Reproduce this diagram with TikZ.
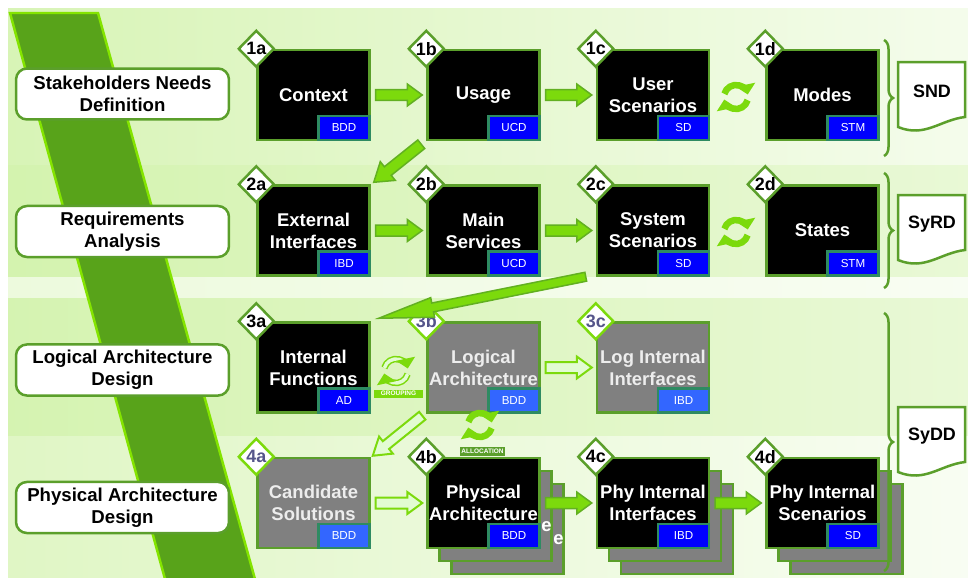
\documentclass[tikz,border=0pt]{standalone}
\usepackage{fontspec}
\setmainfont{Liberation Sans}
\usetikzlibrary{arrows.meta,calc,positioning,shapes.geometric,decorations.pathreplacing}

\definecolor{edgegreen}{HTML}{5B9F2B}
\definecolor{lime}{HTML}{7CDA0C}
\definecolor{limeedge}{HTML}{62B021}
\definecolor{palefill}{HTML}{E2FCD2}
\definecolor{stripefill}{HTML}{58A31A}
\definecolor{stripeedge}{HTML}{84E400}
\definecolor{tagblue}{HTML}{0000FF}
\definecolor{taglight}{HTML}{3366FF}
\definecolor{tagedge}{HTML}{2E8B62}
\definecolor{slate}{HTML}{55558A}
\definecolor{boxgrey}{HTML}{808080}

% block arrow: style, tail, tip, half shaft, half head, head length
\newcommand{\fatarrow}[6]{%
  \coordinate (fa-t) at #2;
  \coordinate (fa-h) at #3;
  \coordinate (fa-c) at ($(fa-h)!#6!(fa-t)$);
  \draw[#1] ($(fa-t)!#4!90:(fa-h)$) -- ($(fa-c)!#4!90:(fa-h)$) -- ($(fa-c)!#5!90:(fa-h)$)
    -- (fa-h) -- ($(fa-c)!#5!-90:(fa-h)$) -- ($(fa-c)!#4!-90:(fa-h)$)
    -- ($(fa-t)!#4!-90:(fa-h)$) -- cycle;
}

\tikzset{
  stagebox/.style={draw=edgegreen, line width=0.05cm, fill=white, rounded corners=0.22cm,
    minimum width=4.26cm, minimum height=1.02cm, align=center,
    font=\bfseries\fontsize{10.6}{12.5}\selectfont},
  viewbox/.style={draw=edgegreen, line width=0.05cm, fill=black, text=white,
    minimum width=2.24cm, minimum height=1.8cm, align=center, inner sep=0pt,
    font=\bfseries\fontsize{10.5}{12.5}\selectfont},
  greybox/.style={viewbox, fill=boxgrey, text=white!93!black},
  backbox/.style={viewbox, fill=boxgrey},
  tagbox/.style={draw=tagedge, line width=0.05cm, fill=tagblue, text=white, anchor=south east,
    minimum width=1.02cm, minimum height=0.48cm, inner sep=0pt, font=\fontsize{6.6}{7}\selectfont},
  lighttag/.style={tagbox, fill=taglight},
  stepno/.style={diamond, draw=edgegreen, fill=white, line width=0.05cm, inner sep=0pt,
    minimum width=0.72cm, minimum height=0.74cm, font=\bfseries\fontsize{10.2}{11}\selectfont},
  stepgrey/.style={stepno, draw=lime, text=slate},
  solidarrow/.style={fill=lime, draw=limeedge, line width=0.03cm},
  palearrow/.style={fill=palefill, draw=lime, line width=0.04cm},
  cyc/.style={line width=0.13cm, lime, -{Triangle[length=0.2cm, width=0.38cm]}},
  cycpale/.style={cyc, draw=lime, double=palefill, double distance=0.07cm, line width=0.03cm},
  minitag/.style={inner sep=0pt, text=white, font=\bfseries\fontsize{3.7}{4}\selectfont},
  doclabel/.style={font=\bfseries\fontsize{10.2}{11}\selectfont},
  docshape/.style={draw=edgegreen, fill=white, line width=0.05cm},
  bracket/.style={draw=edgegreen, line width=0.05cm, decorate, decoration={brace, amplitude=0.18cm}}
}

\begin{document}
\begin{tikzpicture}[x=0.02cm, y=-0.02cm]
  \useasboundingbox (0,0) rectangle (968,578);
  % bands
  \shade[left color=lime!30!white, right color=lime!8!white] (8,8) rectangle (968,165);
  \shade[left color=lime!33!white, right color=lime!17!white] (8,165) rectangle (968,277);
  \shade[left color=lime!14!white, right color=lime!5!white] (8,277) rectangle (968,298);
  \shade[left color=lime!32!white, right color=lime!17!white] (8,298) rectangle (968,436);
  \shade[left color=lime!24!white, right color=lime!5!white] (8,436) rectangle (968,578);
  % stripe
  \begin{scope}
    \clip (0,0) rectangle (968,578);
    \draw[stripeedge, fill=stripefill, line width=0.05cm] (10,13) -- (98,13) -- (258,590) -- (168,590) -- cycle;
  \end{scope}

  % stages
  \node[stagebox] (snd-st) at (122.5,94) {Stakeholders Needs\\Definition};
  \node[stagebox] (req-st) at (122.5,231.5) {Requirements\\Analysis};
  \node[stagebox] (lad-st) at (122.5,370) {Logical Architecture\\Design};
  \node[stagebox] (pad-st) at (122.5,507.5) {Physical Architecture\\Design};

  % stacked copies
  \foreach \cx/\nm in {483.5/phyarch,653/phyif,822.5/physc} {
    \node[backbox] (\nm-2) at (\cx+24,529) {};
    \node[backbox] (\nm-1) at (\cx+12,516) {};
  }
  \node[text=white, font=\bfseries\fontsize{10.5}{12.5}\selectfont, inner sep=0pt] (e1) at (546.5,527) {e};
  \node[text=white, font=\bfseries\fontsize{10.5}{12.5}\selectfont, inner sep=0pt] (e2) at (558.5,540) {e};

  % diagrams
  \node[viewbox] (ctx) at (313.5,95) {Context};
  \node[viewbox] (usage) at (483.5,95) {Usage};
  \node[viewbox] (usrsc) at (653,95) {User\\Scenarios};
  \node[viewbox] (modes) at (822.5,95) {Modes};
  \node[viewbox] (ext) at (313.5,230.5) {External\\Interfaces};
  \node[viewbox] (mainsv) at (483.5,230.5) {Main\\Services};
  \node[viewbox] (syssc) at (653,230.5) {System\\Scenarios};
  \node[viewbox] (states) at (822.5,230.5) {States};
  \node[viewbox] (intfn) at (313.5,367.5) {Internal\\Functions};
  \node[greybox] (logarch) at (483.5,367.5) {Logical\\Architecture};
  \node[greybox] (logif) at (653,367.5) {Log Internal\\Interfaces};
  \node[greybox] (cand) at (313.5,503) {Candidate\\Solutions};
  \node[viewbox] (phyarch) at (483.5,503) {Physical\\Architecture};
  \node[viewbox] (phyif) at (653,503) {Phy Internal\\Interfaces};
  \node[viewbox] (physc) at (822.5,503) {Phy Internal\\Scenarios};

  \foreach \b/\t in {ctx/BDD,usage/UCD,usrsc/SD,modes/STM,ext/IBD,mainsv/UCD,syssc/SD,states/STM,
      intfn/AD,phyarch/BDD,phyif/IBD,physc/SD}
    {\node[tagbox] (\b-tag) at (\b.south east) {\t};}
  \foreach \b/\t in {logarch/BDD,logif/IBD,cand/BDD}
    {\node[lighttag] (\b-tag) at (\b.south east) {\t};}

  \foreach \b/\t in {ctx/1a,usage/1b,usrsc/1c,modes/1d,ext/2a,mainsv/2b,syssc/2c,states/2d,
      intfn/3a,phyarch/4b,phyif/4c,physc/4d}
    {\node[stepno] (\b-no) at (\b.north west) {\t};}
  \foreach \b/\t in {logarch/3b,logif/3c,cand/4a}
    {\node[stepgrey] (\b-no) at (\b.north west) {\t};}

  % flow
  \foreach \a/\b in {ctx/usage,usage/usrsc,ext/mainsv,mainsv/syssc,phyarch/phyif,phyif/physc}
    {\fatarrow{solidarrow}{($(\a.east)+(5,0)$)}{($(\b.west)+(-4,0)$)}{0.11cm}{0.22cm}{0.3cm}}
  \foreach \a/\b in {logarch/logif,cand/phyarch}
    {\fatarrow{palearrow}{($(\a.east)+(5,0)$)}{($(\b.west)+(-4,0)$)}{0.11cm}{0.22cm}{0.3cm}}
  \fatarrow{solidarrow}{($(usage.south west)+(-5,3)$)}{($(ext.north east)+(3,-2)$)}{0.11cm}{0.24cm}{0.36cm}
  \fatarrow{solidarrow}{($(syssc.south west)+(-10,0)$)}{($(intfn.north east)+(8,-3)$)}{0.09cm}{0.2cm}{1.1cm}
  \fatarrow{palearrow}{($(logarch.south west)+(-4,2)$)}{($(cand.north east)+(2,-1)$)}{0.1cm}{0.22cm}{0.34cm}

  % iterations
  \coordinate (cyc1) at (736,97);
  \coordinate (cyc2) at (736,232);
  \coordinate (cycg) at (396,371);
  \coordinate (cyca) at (480,425);
  \foreach \c in {cyc1,cyc2,cyca} {
    \draw[cyc] (\c) ++(15:12) arc[start angle=15, end angle=168, radius=12];
    \draw[cyc] (\c) ++(195:12) arc[start angle=195, end angle=348, radius=12];
  }
  \draw[cycpale] (cycg) ++(15:12) arc[start angle=15, end angle=168, radius=12];
  \draw[cycpale] (cycg) ++(195:12) arc[start angle=195, end angle=348, radius=12];
  \node[minitag, fill=lime, minimum width=0.98cm, minimum height=0.16cm] (grp) at (398.5,393.5) {GROUPING};
  \node[minitag, fill=edgegreen, minimum width=0.92cm, minimum height=0.18cm] (alloc) at (482.5,451.5) {ALLOCATION};

  % documents
  \coordinate (b1t) at (884,40);  \coordinate (b1b) at (884,156);
  \coordinate (b2t) at (884,173); \coordinate (b2b) at (884,288);
  \coordinate (b3t) at (884,313); \coordinate (b3b) at (884,571);
  \draw[bracket] (b1t) -- (b1b);
  \draw[bracket] (b2t) -- (b2b);
  \draw[bracket] (b3t) -- (b3b);
  \foreach \dy/\nm/\txt in {0/snd/SND,133/syrd/SyRD,345/sydd/SyDD} {
    \draw[docshape] (898,62+\dy) -- (965,62+\dy) -- (965,117+\dy)
      .. controls (940,120+\dy) and (925,138+\dy) .. (898,127+\dy) -- cycle;
    \node[doclabel] (\nm) at (932,91+\dy) {\txt};
  }
\end{tikzpicture}
\end{document}
